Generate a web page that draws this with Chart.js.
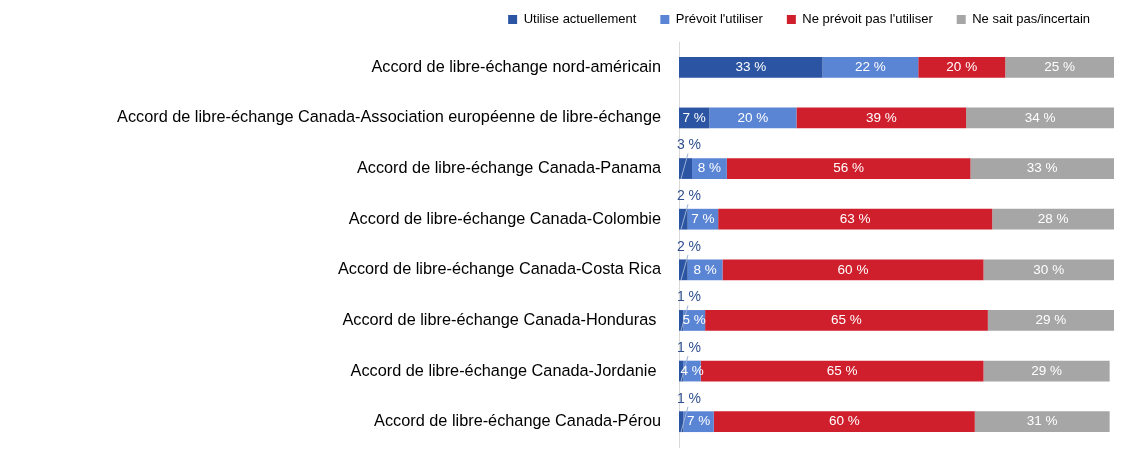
<!DOCTYPE html>
<html>
<head>
<meta charset="utf-8">
<script src="https://cdn.jsdelivr.net/npm/chart.js@4/dist/chart.umd.min.js"></script>
<style>
  body { margin: 0; background: #fff; }
  #wrap { width: 1131px; height: 450px; }
</style>
</head>
<body>
<div id="wrap"><canvas id="accords"></canvas></div>
<script>
// accords de libre-échange
var accords = [
    'Accord de libre-échange nord-américain',
    'Accord de libre-échange Canada-Association européenne de libre-échange',
    'Accord de libre-échange Canada-Panama',
    'Accord de libre-échange Canada-Colombie',
    'Accord de libre-échange Canada-Costa Rica',
    'Accord de libre-échange Canada-Honduras ',
    'Accord de libre-échange Canada-Jordanie ',
    'Accord de libre-échange Canada-Pérou'
];
var utiliseActuellement = [33, 7, 3, 2, 2, 1, 1, 1];
var prevoitUtiliser = [22, 20, 8, 7, 8, 5, 4, 7];
var prevoitPasUtiliser = [20, 39, 56, 63, 60, 65, 65, 60];
var neSaitPas = [25, 34, 33, 28, 30, 29, 29, 31];

var police = "'Liberation Sans', Arial, sans-serif";

// étiquettes de valeurs : dans la barre, ou au-dessus avec un trait si trop petite
var etiquettes = {
    id: 'etiquettes',
    afterDatasetsDraw: function (chart) {
        var ctx = chart.ctx;
        ctx.save();
        ctx.textAlign = 'center';
        ctx.textBaseline = 'middle';
        chart.data.datasets.forEach(function (ds, i) {
            var meta = chart.getDatasetMeta(i);
            meta.data.forEach(function (bar, j) {
                var v = ds.data[j];
                var txt = v + ' %';
                var left = bar.base, right = bar.x;
                if (v >= 4) {
                    ctx.fillStyle = '#ffffff';
                    ctx.font = '13.5px ' + police;
                    ctx.fillText(txt, (left + right) / 2, bar.y);
                } else {
                    var lx = left + 10, ly = bar.y - 23;
                    ctx.strokeStyle = '#9db0d4';
                    ctx.lineWidth = 1;
                    ctx.beginPath();
                    ctx.moveTo(left + 2, bar.y + bar.height / 2);
                    ctx.lineTo(lx - 1, ly + 8);
                    ctx.stroke();
                    ctx.fillStyle = '#2f4f8f';
                    ctx.font = '14px ' + police;
                    ctx.fillText(txt, lx, ly);
                }
            });
        });
        ctx.restore();
    }
};

// hauteur fixe de la légende
var legendeFixe = {
    id: 'legendeFixe',
    afterInit: function (chart) {
        var lg = chart.legend;
        var fitOrig = lg.fit;
        lg.fit = function () {
            fitOrig.call(this);
            this.height = 53;
        };
    }
};

new Chart(document.getElementById('accords').getContext('2d'), {
    type: 'bar',
    data: {
        labels: accords,
        datasets: [
            { label: 'Utilise actuellement', data: utiliseActuellement, backgroundColor: '#2b55a2' },
            { label: "Prévoit l'utiliser", data: prevoitUtiliser, backgroundColor: '#5a84d4' },
            { label: "Ne prévoit pas l'utiliser", data: prevoitPasUtiliser, backgroundColor: '#cf1f2c' },
            { label: 'Ne sait pas/incertain', data: neSaitPas, backgroundColor: '#a6a6a6' }
        ]
    },
    options: {
        indexAxis: 'y',
        responsive: true,
        maintainAspectRatio: false,
        animation: false,
        datasets: { bar: { categoryPercentage: 0.82, barPercentage: 0.5, borderWidth: 0 } },
        layout: { padding: { top: -11, right: 17, bottom: 3, left: 0 } },
        plugins: {
            legend: {
                position: 'top',
                align: 'end',
                labels: {
                    boxWidth: 9,
                    boxHeight: 9,
                    padding: 24,
                    color: '#000',
                    font: { family: police, size: 13 }
                }
            },
            tooltip: { enabled: false }
        },
        scales: {
            x: {
                stacked: true,
                min: 0,
                max: 100,
                display: false
            },
            y: {
                stacked: true,
                grid: { display: false },
                border: { color: '#d9d9d9' },
                ticks: { color: '#000', padding: 10, font: { family: police, size: 16.3 } },
                afterFit: function (s) {
                    s.width = 679;
                    s.paddingTop = 0;
                    s.paddingBottom = 0;
                }
            }
        }
    },
    plugins: [etiquettes, legendeFixe]
});
</script>
</body>
</html>
